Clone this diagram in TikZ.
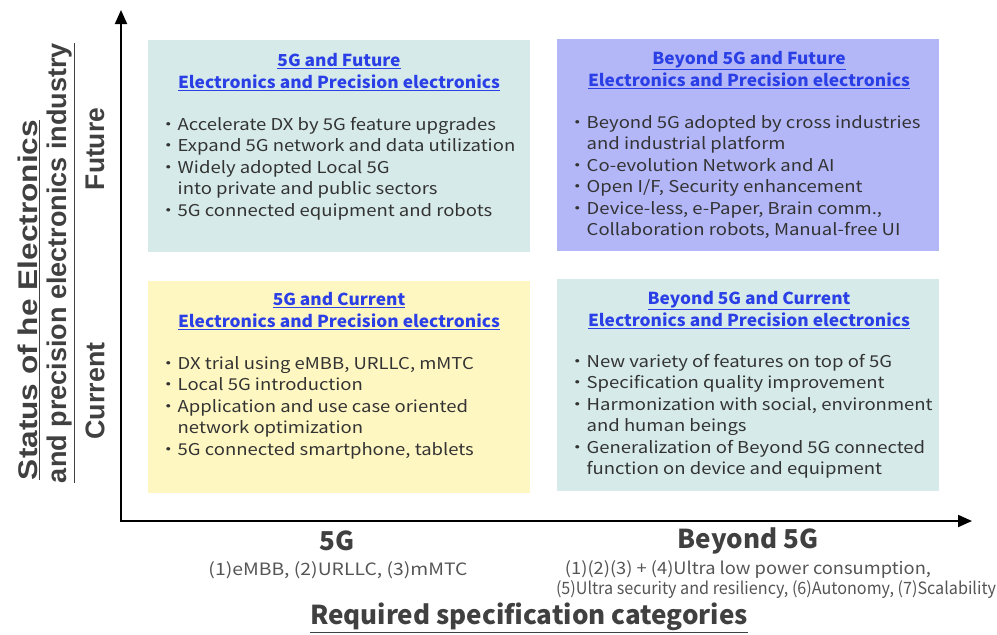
\documentclass[tikz,border=0pt]{standalone}
\usepackage{fontspec}
\usepackage{graphicx}
\setmainfont{Noto Sans CJK JP}
\newfontfamily\cjk{Noto Sans CJK JP}
\newfontfamily\bodyfont{Noto Sans CJK JP}[FakeStretch=1.135]
\newfontfamily\ttlfont{Noto Sans CJK JP}[FakeStretch=1.05]
\newfontfamily\labfont{Liberation Sans}
\usetikzlibrary{arrows.meta}
\definecolor{tealbox}{HTML}{D6EBE9}
\definecolor{lavbox}{HTML}{B3B7F8}
\definecolor{yelbox}{HTML}{FFF7C2}
\definecolor{ttlblue}{HTML}{2B3FE6}
\definecolor{bodygray}{HTML}{333333}
\definecolor{axgray}{HTML}{404040}
\definecolor{subgray}{HTML}{555555}
\newcommand{\bl}{・}
\newcommand{\ind}{\phantom{・}}
\begin{document}
\begin{tikzpicture}[x=1pt,y=-1pt,
  quad/.style={anchor=north west, inner sep=0, minimum width=382pt, minimum height=212pt},
  ttl/.style={align=center, text=ttlblue, font=\ttlfont\fontsize{16.5}{22}\selectfont\bfseries, inner sep=0},
  body/.style={anchor=north west, align=left, text=bodygray, font=\bodyfont\fontsize{16.3}{21.5}\selectfont, inner sep=0},
  axlab/.style={text=axgray, font=\labfont\fontsize{27}{33}\selectfont\bfseries, inner sep=0, rotate=90},
  bigx/.style={text=axgray, font=\cjk\fontsize{26}{30}\selectfont\bfseries, inner sep=0},
  sub/.style={text=subgray, font=\cjk\fontsize{17}{21}\selectfont, inner sep=0},
  axis/.style={line width=2pt, -{Triangle[length=14pt,width=12pt]}}
]
\useasboundingbox (0,0) rectangle (997,635);
% boxes
\node[quad, fill=tealbox] (tl) at (148,40) {};
\node[quad, fill=lavbox] (tr) at (557,39) {};
\node[quad, fill=yelbox] (bl) at (148,281) {};
\node[quad, fill=tealbox] (br) at (557,279) {};
% titles
\node[ttl] (tlt) at (339,72) {\underline{5G and Future}\\\underline{Electronics and Precision electronics}};
\node[ttl] (trt) at (749,70) {\underline{Beyond 5G and Future}\\\underline{Electronics and Precision electronics}};
\node[ttl] (blt) at (339,311) {\underline{5G and Current}\\\underline{Electronics and Precision electronics}};
\node[ttl] (brt) at (749,310) {\underline{Beyond 5G and Current}\\\underline{Electronics and Precision electronics}};
% bodies
\node[body] (tlb) at (159,117) {\bl Accelerate DX by 5G feature upgrades\\\bl Expand 5G network and data utilization\\\bl Widely adopted Local 5G\\\ind into private and public sectors\\\bl 5G connected equipment and robots};
\node[body] (trb) at (568,115) {\bl Beyond 5G adopted by cross industries\\\ind and industrial platform\\\bl Co-evolution Network and AI\\\bl Open I/F, Security enhancement\\\bl Device-less, e-Paper, Brain comm.,\\\ind Collaboration robots, Manual-free UI};
\node[body] (blb) at (159,356) {\bl DX trial using eMBB, URLLC, mMTC\\\bl Local 5G introduction\\\bl Application and use case oriented\\\ind network optimization\\\bl 5G connected smartphone, tablets};
\node[body] (brb) at (568,354) {\bl New variety of features on top of 5G\\\bl Specification quality improvement\\\bl Harmonization with social, environment\\\ind and human beings\\\bl Generalization of Beyond 5G connected\\\ind function on device and equipment};
% axes
\coordinate (o) at (121,521);
\coordinate (ytop) at (121,10);
\coordinate (xend) at (972,521);
\draw[axis] (o) -- (ytop);
\draw[axis] (120,521) -- (xend);
% left labels
\node[axlab] (fut) at (95,149) {\resizebox{82pt}{\height}{Future}};
\node[axlab] (cur) at (95,391) {\resizebox{97pt}{\height}{Current}};
\node[axlab] (ylab1) at (29,300) {\resizebox{360pt}{\height}{\underline{Status of he Electronics}}};
\node[axlab] (ylab2) at (61,263) {\resizebox{440pt}{\height}{\underline{and precision electronics industry}}};
% bottom labels
\node[bigx] (x5g) at (337,541) {5G};
\node[bigx] (xb5g) at (748,541) {Beyond 5G};
\node[sub] (s5g) at (338,570) {\resizebox{259pt}{\height}{(1)eMBB, (2)URLLC, (3)mMTC}};
\node[sub] (sb5g1) at (748,569) {\resizebox{366pt}{\height}{(1)(2)(3) + (4)Ultra low power consumption,}};
\node[sub] (sb5g2) at (776,590) {\resizebox{440pt}{\height}{(5)Ultra security and resiliency, (6)Autonomy, (7)Scalability}};
\node[bigx] (xlab) at (529,618) {\underline{Required specification categories}};
\end{tikzpicture}
\end{document}
